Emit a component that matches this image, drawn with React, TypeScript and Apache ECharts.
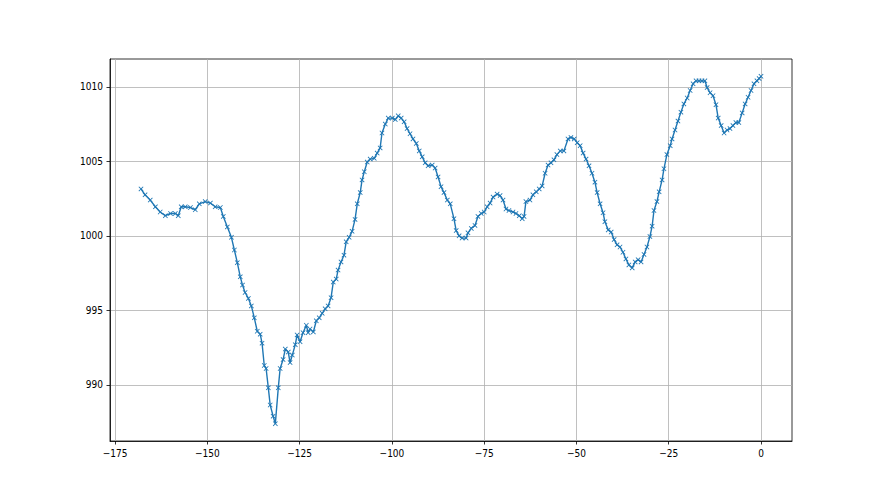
import React, { useEffect, useRef } from "react";
import * as echarts from "echarts";

const xs: number[] = [
  -168, -166.9, -165.5, -164.1, -162.8, -161.4, -160, -158.7, -157.9, -157.1, -156, -154.6, -153.3, -152.2, -150.6,
  -149.2, -147.9, -146.5, -145.7, -144.6, -143.5, -142.7, -141.9, -141.1, -140.5, -139.8, -138.9, -138.1, -137.3,
  -136.5, -135.7, -135.2, -134.6, -134.1, -133.5, -133.0, -132.2, -131.6, -130.8, -130.3, -129.5, -128.9, -128.1,
  -127.6, -127.0, -126.2, -125.7, -124.9, -124.1, -123.2, -122.7, -122.2, -121.3, -120.5, -119.7, -118.9, -118.1,
  -117.3, -116.5, -115.9, -115.1, -114.6, -113.8, -113.0, -112.4, -111.6, -110.8, -110, -109.4, -108.6, -108.1,
  -107.5, -106.7, -105.9, -104.8, -104.0, -103.2, -102.7, -101.8, -101.0, -99.9, -99.1, -98.3, -97.5, -96.7, -95.9,
  -95.1, -94.3, -93.4, -92.6, -91.8, -91.0, -90.2, -89.1, -88.3, -87.5, -86.7, -85.9, -85.0, -84.2, -83.2, -82.6,
  -81.8, -81.0, -79.9, -79.4, -78.5, -77.5, -76.7, -75.8, -75.0, -74.2, -73.4, -72.6, -71.5, -70.7, -69.9, -69.1,
  -68.3, -67.2, -66.4, -65.5, -64.7, -64.2, -63.7, -62.6, -61.8, -60.9, -60.1, -59.3, -58.5, -57.7, -56.9, -56.1,
  -55.3, -54.4, -53.4, -52.3, -51.5, -50.6, -49.8, -49.0, -48.2, -47.4, -46.6, -45.8, -45.0, -44.4, -43.6, -42.8,
  -42.3, -41.4, -40.6, -39.8, -39.0, -38.2, -37.4, -36.6, -35.8, -34.9, -34.1, -33.3, -32.5, -31.7, -30.9, -30.1,
  -29.5, -29.0, -28.2, -27.6, -26.8, -26.3, -25.5, -24.6, -24.1, -23.3, -22.5, -21.7, -20.9, -20.0, -19.2, -18.4,
  -17.6, -16.8, -16.0, -15.2, -14.6, -13.8, -13.0, -12.2, -11.6, -10.8, -10.0, -9.2, -8.4, -7.6, -6.8, -6.0, -5.1,
  -4.3, -3.5, -2.7, -1.9, -1.1, -0.5, 0,
];

const ys: number[] = [
  1003.15, 1002.75, 1002.4, 1001.95, 1001.6, 1001.35, 1001.5, 1001.5, 1001.35, 1001.95, 1001.95, 1001.9, 1001.75,
  1002.15, 1002.3, 1002.2, 1001.95, 1001.9, 1001.3, 1000.6, 999.9, 999.05, 998.2, 997.25, 996.7, 996.2, 995.8, 995.3,
  994.5, 993.6, 993.4, 992.8, 991.3, 991.1, 989.8, 988.65, 987.9, 987.4, 989.8, 991.1, 991.7, 992.4, 992.2, 991.5,
  992.0, 992.7, 993.35, 992.9, 993.5, 994.0, 993.5, 993.75, 993.55, 994.3, 994.5, 994.8, 995.1, 995.3, 995.85, 996.9,
  997.1, 997.7, 998.25, 998.7, 999.6, 999.9, 1000.3, 1001.1, 1002.15, 1002.9, 1003.75, 1004.3, 1004.95, 1005.15,
  1005.2, 1005.55, 1005.9, 1006.9, 1007.5, 1007.9, 1007.9, 1007.8, 1008.05, 1007.9, 1007.65, 1007.2, 1006.85, 1006.5,
  1006.2, 1005.7, 1005.3, 1004.9, 1004.7, 1004.75, 1004.55, 1003.95, 1003.3, 1002.9, 1002.4, 1002.15, 1001.15,
  1000.35, 1000.0, 999.85, 999.85, 1000.2, 1000.5, 1000.7, 1001.3, 1001.5, 1001.6, 1001.95, 1002.2, 1002.6, 1002.8,
  1002.7, 1002.4, 1001.8, 1001.7, 1001.6, 1001.5, 1001.35, 1001.15, 1001.3, 1002.3, 1002.4, 1002.75, 1002.95,
  1003.15, 1003.35, 1004.2, 1004.75, 1004.9, 1005.1, 1005.45, 1005.7, 1005.7, 1006.5, 1006.6, 1006.5, 1006.25,
  1006.05, 1005.55, 1005.15, 1004.7, 1004.2, 1003.6, 1002.9, 1002.15, 1001.55, 1000.95, 1000.4, 1000.25, 999.75,
  999.4, 999.25, 998.9, 998.45, 998.05, 997.85, 998.25, 998.4, 998.25, 998.75, 999.25, 999.95, 1000.65, 1001.7,
  1002.3, 1002.95, 1003.75, 1004.5, 1005.45, 1006.05, 1006.5, 1007.1, 1007.7, 1008.3, 1008.85, 1009.25, 1009.75,
  1010.2, 1010.4, 1010.4, 1010.4, 1010.4, 1009.95, 1009.6, 1009.4, 1008.8, 1007.9, 1007.4, 1006.9, 1007.1, 1007.2,
  1007.4, 1007.6, 1007.6, 1008.25, 1008.85, 1009.3, 1009.75, 1010.2, 1010.4, 1010.55, 1010.7,
];

const xTicks: number[] = [-175, -150, -125, -100, -75, -50, -25, 0];
const yTicks: number[] = [990, 995, 1000, 1005, 1010];

const X_SYMBOL =
  "path://M0,1.2L1.2,0L5,3.8L8.8,0L10,1.2L6.2,5L10,8.8L8.8,10L5,6.2L1.2,10L0,8.8L3.8,5Z";

export default function App() {
  const ref = useRef<HTMLDivElement>(null);
  useEffect(() => {
    if (!ref.current) return;
    const chart = echarts.init(ref.current, null, { renderer: "svg" });
    const data = xs.map((x, i) => [x, ys[i]]);
    const xMin = Math.min(...xs), xMax = Math.max(...xs);
    const yMin = Math.min(...ys), yMax = Math.max(...ys);
    const xm = (xMax - xMin) * 0.05, ym = (yMax - yMin) * 0.05;
    const fmt = (v: number) => String(v).replace("-", "\u2212");
    const labelStyle = {
      color: "#000",
      fontFamily: "DejaVu Sans Condensed, DejaVu Sans",
      fontSize: 10,
    };
    chart.setOption({
      animation: false,
      backgroundColor: "#fff",
      grid: {
        left: 110,
        right: 88,
        top: 59,
        bottom: 54,
        show: true,
        borderColor: "#000",
        borderWidth: 0.8,
        backgroundColor: "transparent",
      },
      xAxis: {
        type: "value",
        min: xMin - xm,
        max: xMax + xm,
        axisLine: { show: true, onZero: false, lineStyle: { color: "#000", width: 0.8 } },
        axisTick: {
          show: true,
          length: 3.5,
          customValues: xTicks,
          lineStyle: { color: "#000", width: 0.8 },
        },
        axisLabel: { ...labelStyle, margin: 7, customValues: xTicks, formatter: fmt },
        splitLine: { show: true, lineStyle: { color: "#b0b0b0", width: 0.8 } },
      },
      yAxis: {
        type: "value",
        min: yMin - ym,
        max: yMax + ym,
        axisLine: { show: true, onZero: false, lineStyle: { color: "#000", width: 0.8 } },
        axisTick: {
          show: true,
          length: 3.5,
          customValues: yTicks,
          lineStyle: { color: "#000", width: 0.8 },
        },
        axisLabel: { ...labelStyle, margin: 7, customValues: yTicks, formatter: fmt },
        splitLine: { show: true, lineStyle: { color: "#b0b0b0", width: 0.8 } },
      },
      series: [
        {
          type: "line",
          data,
          symbol: X_SYMBOL,
          symbolSize: 5,
          showAllSymbol: true,
          lineStyle: { color: "#1f77b4", width: 1.4 },
          itemStyle: { color: "#1f77b4" },
        },
      ],
    });
    return () => chart.dispose();
  }, []);
  return (
    <div
      ref={ref}
      style={{ position: "fixed", left: 0, top: 0, width: 880, height: 495 }}
    />
  );
}
